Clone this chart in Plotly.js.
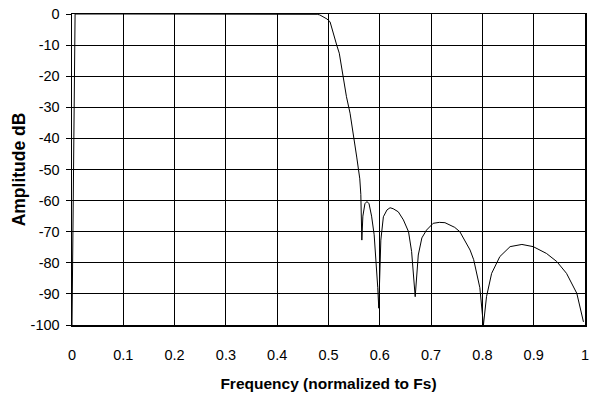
<!DOCTYPE html>
<html>
<head>
<meta charset="utf-8">
<script src="https://cdn.plot.ly/plotly-3.0.1.min.js"></script>
<style>html,body{margin:0;padding:0;background:#fff;}#chart{width:591px;height:400px;}</style>
</head>
<body>
<div id="chart"></div>
<script>
const frequency = [0, 0.006, 0.1, 0.2, 0.3, 0.4, 0.47, 0.478, 0.483, 0.49, 0.497, 0.503, 0.509, 0.516, 0.521, 0.528, 0.535, 0.542, 0.549, 0.555, 0.561, 0.563, 0.565, 0.567, 0.571, 0.575, 0.579, 0.584, 0.589, 0.593, 0.596, 0.598, 0.6, 0.602, 0.607, 0.614, 0.62, 0.626, 0.636, 0.646, 0.656, 0.662, 0.669, 0.675, 0.682, 0.691, 0.704, 0.716, 0.727, 0.737, 0.746, 0.756, 0.766, 0.776, 0.783, 0.789, 0.795, 0.802, 0.805, 0.808, 0.818, 0.834, 0.854, 0.877, 0.899, 0.925, 0.945, 0.964, 0.984, 0.997];
const amplitudeDb = [-100, 0, 0, 0, 0, 0, 0, -0.1, -0.3, -0.9, -1.6, -2.5, -6.2, -10, -12.6, -20.2, -26.6, -31.9, -39, -46, -53, -58, -72.7, -65, -61, -60.3, -61, -65, -71, -80, -88, -94.6, -80, -72.7, -65.2, -63, -62.3, -62.6, -63.6, -66.2, -70, -76.4, -90.9, -77.5, -72, -69.5, -67.3, -67, -67.1, -67.8, -68.6, -70, -73, -75.9, -79, -83.4, -88, -100, -95, -90.9, -83.4, -78, -74.8, -74.1, -74.8, -77, -79.6, -83.4, -89.8, -99];
const yTickValues = [-100, -90, -80, -70, -60, -50, -40, -30, -20, -10, 0];
const yTickLabels = ['-100', '-90', '-80', '-70', '-60', '-50', '-40', '-30', '-20', '-10', '0'];
const xTitle = 'Frequency (normalized to Fs)';
const yTitle = 'Amplitude dB';

const font = 'Arial, "Liberation Sans", sans-serif';
Plotly.newPlot('chart', [{
  x: frequency, y: amplitudeDb, type: 'scatter', mode: 'lines',
  line: {color: '#000', width: 1}, hoverinfo: 'skip'
}], {
  width: 591, height: 400,
  margin: {l: 72, r: 6, t: 14, b: 75},
  paper_bgcolor: '#fff', plot_bgcolor: '#fff',
  showlegend: false,
  font: {family: font, size: 14.5, color: '#000'},
  xaxis: {
    range: [0, 1], dtick: 0.1, tick0: 0,
    showgrid: true, gridcolor: '#000', gridwidth: 1,
    showline: true, mirror: true, linecolor: '#000', linewidth: 1.5,
    zeroline: false, ticks: '', ticklabelstandoff: 16,
    title: {text: xTitle, font: {family: font, size: 15.5, weight: 'bold'}, standoff: 16}
  },
  yaxis: {
    range: [-100, 0], tickmode: 'array', tickvals: yTickValues, ticktext: yTickLabels,
    showgrid: true, gridcolor: '#000', gridwidth: 1,
    showline: true, mirror: true, linecolor: '#000', linewidth: 1.5,
    zeroline: false, ticks: 'outside', ticklen: 5, tickcolor: '#000',
    ticklabelstandoff: 3,
    title: {text: yTitle, font: {family: font, size: 17.5, weight: 'bold'}, standoff: 0}
  }
}, {displayModeBar: false, staticPlot: true});
</script>
</body>
</html>
